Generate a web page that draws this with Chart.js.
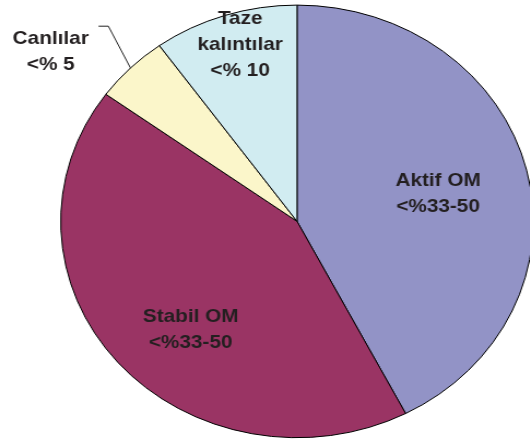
<!DOCTYPE html>
<html><head><meta charset="utf-8">
<script src="https://cdn.jsdelivr.net/npm/chart.js@4"></script>
<style>
html,body{margin:0;padding:0;background:#fff;overflow:hidden;width:530px;height:441px}
#wrap{position:absolute;left:0;top:0;width:485px;height:441px;transform:scaleX(1.0925);transform-origin:0 0}
</style></head>
<body><div id="wrap"><canvas id="c"></canvas></div>
<script>
// ---- data ----
const categories = ['Aktif OM', 'Stabil OM', 'Canlılar', 'Taze kalıntılar'];
const values = [42.4, 42.6, 5.1, 9.9];
const labelLines = [['Aktif OM', '<%33-50'], ['Stabil OM', '<%33-50'], ['Canlılar', '<% 5'], ['Taze', 'kalıntılar', '<% 10']];

// ---- style ----
const colors = ['#9293C6', '#9A3464', '#FBF6CA', '#D1ECF1'];
// label placement: angle in degrees clockwise from 12 o'clock, distance as fraction of radius
const labelPlace = [
  {angle: 78, dist: 0.61},
  {angle: 221.9, dist: 0.674},
  {angle: 307.0, dist: 1.305},
  {angle: 343.6, dist: 0.853}
];
const lineHeight = 26;

const labelPlugin = {
  id: 'sliceLabels',
  afterDatasetsDraw(chart) {
    const ctx = chart.ctx;
    const meta = chart.getDatasetMeta(0);
    const arc0 = meta.data[0];
    const cx = arc0.x, cy = arc0.y, r = arc0.outerRadius;
    ctx.save();
    // leader line for the small slice (Canlılar)
    const a2 = meta.data[2];
    const mid = (a2.startAngle + a2.endAngle) / 2;
    const p0 = {x: cx + Math.cos(mid) * r, y: cy + Math.sin(mid) * r};
    const elbowAng = (-90 + 318.5) * Math.PI / 180;
    const p1 = {x: cx + Math.cos(elbowAng) * r * 1.205, y: cy + Math.sin(elbowAng) * r * 1.205};
    const p2 = {x: p1.x - 9, y: p1.y};
    ctx.strokeStyle = '#222';
    ctx.lineWidth = 1;
    ctx.beginPath();
    ctx.moveTo(p0.x, p0.y); ctx.lineTo(p1.x, p1.y); ctx.lineTo(p2.x, p2.y);
    ctx.stroke();

    ctx.fillStyle = '#231F20';
    ctx.font = 'bold 19px "Liberation Sans", Arial, sans-serif';
    ctx.textAlign = 'center';
    ctx.textBaseline = 'middle';
    labelLines.forEach((lines, i) => {
      const pl = labelPlace[i];
      const ang = (-90 + pl.angle) * Math.PI / 180;
      const lx = cx + Math.cos(ang) * r * pl.dist;
      const ly = cy + Math.sin(ang) * r * pl.dist;
      const y0 = ly - (lines.length - 1) * lineHeight / 2;
      lines.forEach((t, j) => ctx.fillText(t, lx, y0 + j * lineHeight));
    });
    ctx.restore();
  }
};

new Chart(document.getElementById('c'), {
  type: 'pie',
  data: {
    labels: categories,
    datasets: [{
      data: values,
      backgroundColor: colors,
      borderColor: '#000',
      borderWidth: 1
    }]
  },
  options: {
    responsive: true,
    maintainAspectRatio: false,
    animation: false,
    radius: 216.3,
    layout: {padding: {left: 58.8, right: 0, top: 1.8, bottom: 0}},
    plugins: {legend: {display: false}, tooltip: {enabled: false}}
  },
  plugins: [labelPlugin]
});
</script>
</body></html>
